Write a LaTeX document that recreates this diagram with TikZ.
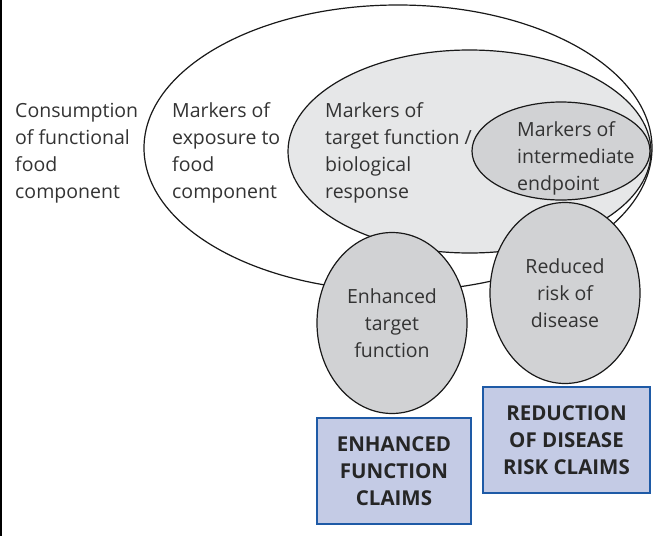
\documentclass[tikz,border=0pt]{standalone}
\usepackage{fontspec}
\setmainfont{Open Sans}
\usetikzlibrary{shapes.geometric}
\definecolor{paleGrey}{HTML}{E6E7E8}
\definecolor{midGrey}{HTML}{D1D2D4}
\definecolor{claimFill}{HTML}{C4CBE5}
\definecolor{claimEdge}{HTML}{1E5AA6}
\definecolor{inkGrey}{HTML}{333333}
\begin{document}
\begin{tikzpicture}
  [x=1pt, y=-1pt,
  every node/.style={font=\fontsize{19.5}{27}\selectfont, text=inkGrey, inner sep=0pt},
  zone/.style={ellipse, draw=black!90, line width=1.2pt},
  outcome/.style={zone, fill=midGrey, minimum width=150pt, minimum height=181pt, align=center},
  claim/.style={rectangle, draw=claimEdge, fill=claimFill, line width=2.6pt, align=center,
    font=\fontsize{20.5}{27}\selectfont\bfseries, text=black!85},
  caption/.style={anchor=west, align=left},
  ]
  \useasboundingbox (0,0) rectangle (657,536);
  \draw[line width=1.5pt] (1,0) -- (1,536);
  % nested markers
  \node[zone, fill=white, minimum width=508pt, minimum height=286pt] (exposure) at (398,148) {};
  \node[zone, fill=paleGrey, minimum width=363pt, minimum height=203pt] (response) at (469.5,151.5) {};
  \node[zone, fill=midGrey, minimum width=178pt, minimum height=98pt] (endpoint) at (561,151) {};
  \node[caption] (consumption) at (15,153) {Consumption\\of functional\\food\\component};
  \node[caption] (exposuretext) at (172,153) {Markers of\\exposure to\\food\\component};
  \node[caption] (responsetext) at (325,153) {Markers of\\target function /\\biological\\response};
  \node[caption] (endpointtext) at (517,158) {Markers of\\intermediate\\endpoint};
  % outcomes
  \node[outcome] (target) at (392,323) {Enhanced\\target\\function};
  \node[outcome] (risk) at (565,293) {Reduced\\risk of\\disease};
  % claims
  \node[claim, minimum width=154pt, minimum height=106pt] (functionclaim) at (394,471) {ENHANCED\\FUNCTION\\CLAIMS};
  \node[claim, minimum width=167pt, minimum height=106pt] (riskclaim) at (566.5,440) {REDUCTION\\OF DISEASE\\RISK CLAIMS};
\end{tikzpicture}
\end{document}
